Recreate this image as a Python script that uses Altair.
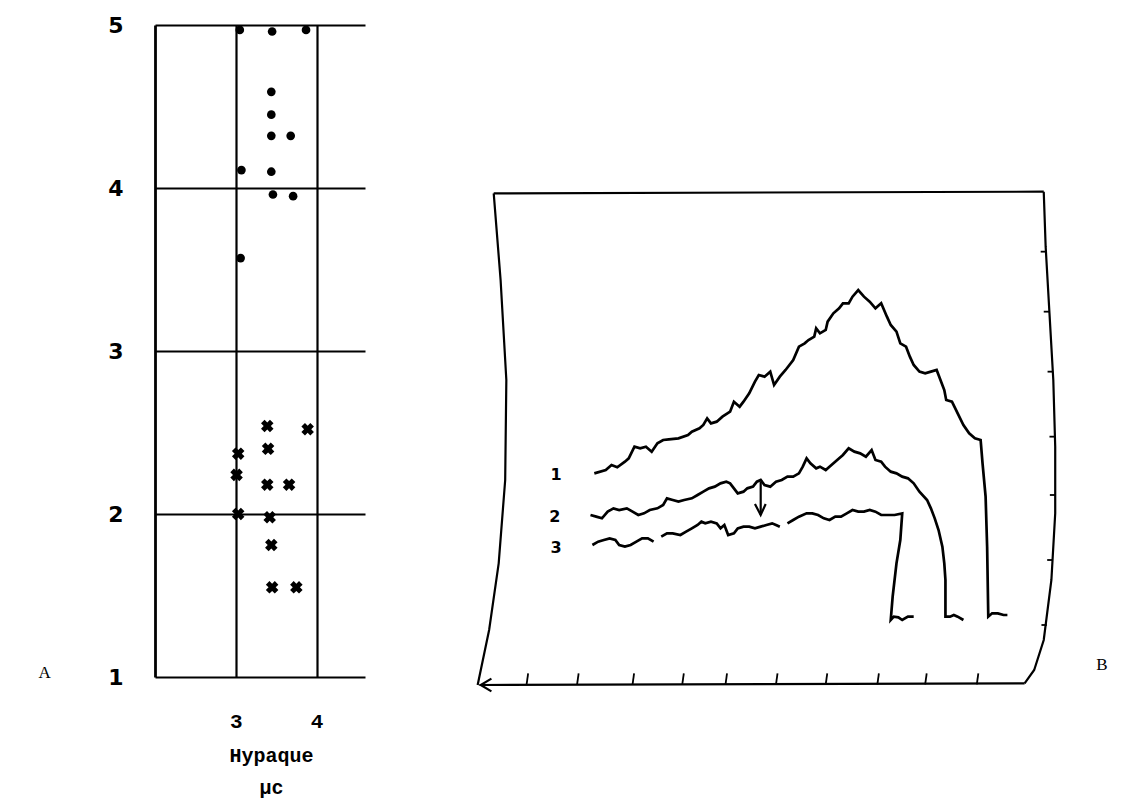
import altair as alt
import pandas as pd

# ---------------- Panel A : scatter (Hypaque uc vs value) ----------------
dot_hypaque = [3.05, 3.45, 3.87, 3.44, 3.44, 3.44, 3.68, 3.07, 3.44, 3.46, 3.71, 3.06]
dot_value = [4.97, 4.96, 4.97, 4.59, 4.45, 4.32, 4.32, 4.11, 4.10, 3.96, 3.95, 3.57]
cross_hypaque = [3.39, 3.89, 3.03, 3.40, 3.01, 3.39, 3.66, 3.03, 3.42, 3.44, 3.45, 3.75]
cross_value = [2.54, 2.52, 2.37, 2.40, 2.24, 2.18, 2.18, 2.00, 1.98, 1.81, 1.55, 1.55]
x_ticks = [3, 4]
y_ticks = [1, 2, 3, 4, 5]

# ---------------- Panel B : recorder traces (chart units) ----------------
trace1_x = [32.5, 35.5, 37.0, 38.5, 40.5, 41.5, 43.0, 44.5, 46.0, 47.5, 49.0, 50.5, 52.0, 54.5, 57.0,
            58.0, 60.0, 61.0, 62.0, 63.0, 64.5, 66.0, 68.0, 69.0, 70.5, 71.5, 73.0, 74.5, 75.5, 77.0,
            78.5, 79.5, 81.0, 82.5, 84.5, 86.0, 87.5, 88.5, 90.0, 90.5, 91.5, 93.0, 93.5, 95.0, 96.5,
            97.5, 99.0, 100.0, 101.5, 103.0, 104.5, 106.0, 107.5, 109.0, 110.0, 111.5, 112.5, 114.0,
            115.0, 116.0, 117.5, 119.0, 120.5, 122.0, 123.0, 124.0, 124.5, 126.0, 127.5, 129.0, 130.5,
            132.0, 133.5, 134.0, 134.8, 135.2, 135.5, 136.5, 138.0, 139.5, 140.5]
trace1_y = [68.0, 69.0, 70.5, 69.8, 71.5, 72.5, 76.0, 75.5, 76.0, 74.5, 77.0, 78.0, 78.2, 78.5, 79.5,
            80.5, 81.5, 82.5, 84.5, 83.0, 83.5, 85.0, 86.5, 89.5, 88.0, 89.5, 92.0, 95.5, 97.5, 97.0,
            98.5, 94.5, 97.0, 99.0, 102.0, 106.0, 107.0, 108.0, 109.0, 111.5, 110.0, 111.0, 113.5, 116.0,
            117.5, 119.0, 119.0, 121.0, 123.0, 121.0, 119.5, 117.5, 119.0, 115.0, 112.5, 110.5, 107.0,
            106.0, 103.0, 100.5, 98.5, 98.0, 98.5, 99.0, 96.0, 93.0, 90.0, 89.5, 86.0, 82.5, 80.0,
            78.5, 78.0, 71.0, 61.0, 46.0, 25.0, 26.0, 26.0, 25.5, 25.5]

trace2_x = [31.5, 33.0, 34.5, 36.0, 37.5, 39.0, 41.0, 42.5, 44.0, 45.5, 47.0, 49.0, 50.5, 51.5, 53.0,
            54.5, 56.0, 58.0, 59.5, 61.0, 62.5, 64.0, 65.5, 67.0, 68.0, 69.0, 70.0, 71.5, 72.5, 74.0,
            75.0, 76.0, 77.0, 78.5, 80.0, 81.5, 83.0, 84.5, 86.0, 87.0, 88.0, 89.0, 90.5, 91.5, 93.0,
            94.5, 96.0, 97.5, 99.0, 100.5, 102.0, 103.5, 105.0, 106.0, 107.5, 108.5, 110.0, 111.5,
            113.0, 114.5, 116.0, 117.5, 119.5, 120.5, 121.5, 122.5, 123.5, 124.0, 124.3, 124.3, 125.5,
            126.5, 127.5, 129.0]
trace2_y = [55.5, 55.0, 54.5, 56.5, 57.5, 57.0, 57.5, 56.5, 55.5, 56.0, 57.0, 57.5, 58.5, 60.5, 60.0,
            59.5, 60.0, 60.5, 61.5, 62.5, 63.5, 64.0, 65.0, 65.5, 65.0, 63.5, 62.0, 62.5, 63.5, 64.0,
            65.5, 66.0, 64.5, 64.0, 65.5, 66.0, 67.0, 67.0, 68.0, 70.0, 72.5, 71.0, 69.5, 70.0, 69.0,
            70.5, 72.0, 73.5, 75.5, 74.5, 74.0, 73.0, 75.0, 72.0, 71.5, 70.0, 68.5, 68.0,
            67.0, 66.5, 65.0, 62.5, 60.0, 57.5, 54.5, 51.0, 46.0, 41.0, 36.0, 25.0, 25.0,
            25.5, 25.0, 24.0]

trace3a_x = [32.0, 33.5, 35.0, 36.5, 38.0, 39.0, 40.5, 42.0, 43.5, 45.0, 46.5, 48.0]
trace3a_y = [46.5, 47.5, 48.0, 48.5, 48.0, 46.5, 46.0, 46.5, 47.5, 48.5, 48.5, 47.5]
trace3b_x = [50.0, 51.5, 53.0, 55.0, 56.5, 58.0, 59.5, 60.5, 61.5, 63.0, 64.5, 65.5, 66.5, 67.5, 69.0,
             70.0, 71.5, 73.0, 74.5, 76.0, 77.5, 79.0, 80.0, 81.0]
trace3b_y = [49.0, 50.0, 50.0, 49.5, 50.5, 51.5, 52.5, 53.5, 53.0, 53.5, 53.0, 51.5, 52.5, 49.5, 50.0,
             51.5, 52.0, 52.0, 51.5, 52.0, 52.5, 53.0, 52.5, 52.0]
trace3c_x = [83.0, 84.5, 86.0, 88.0, 89.5, 91.0, 92.5, 94.0, 95.5, 97.0, 98.5, 100.0, 101.5, 103.0,
             104.5, 106.0, 107.5, 109.0, 111.0, 113.0, 112.5, 111.5, 110.5, 110.0, 110.8, 112.0, 113.0,
             114.5, 116.0]
trace3c_y = [53.0, 54.0, 55.0, 56.0, 56.0, 55.5, 54.5, 54.0, 55.0, 55.0, 56.0, 57.0, 56.5, 56.5,
             57.0, 56.5, 55.5, 55.5, 55.5, 56.0, 48.0, 41.0, 31.0, 24.0, 25.0, 24.8, 24.0,
             25.0, 25.0]

arrow_x = [76.0, 76.0]
arrow_y = [65.5, 55.5]
arrowhead_x = [74.5, 76.0, 77.3]
arrowhead_y = [58.8, 55.5, 58.8]

# frame of the recording paper
frame_top_x = [6.2, 150.0]
frame_top_y = [152.0, 152.5]
frame_left_x = [6.2, 8.0, 9.5, 9.2, 7.5, 5.0, 2.0]
frame_left_y = [152.0, 126.0, 96.0, 66.0, 41.0, 21.0, 4.5]
frame_bottom_x = [2.5, 145.0]
frame_bottom_y = [4.5, 5.0]
frame_right_x = [150.0, 150.5, 151.5, 152.5, 153.0, 153.0, 152.0, 150.0, 147.5, 145.0]
frame_right_y = [152.5, 136.0, 116.0, 96.0, 76.0, 56.0, 36.0, 18.0, 9.0, 5.0]
axis_arrow_x = [5.6, 2.8, 5.6]
axis_arrow_y = [6.4, 4.5, 2.6]

bottom_tick_x = [14.8, 28.0, 42.5, 55.5, 66.8, 80.0, 93.0, 106.5, 119.0, 132.5]
right_tick_y = [134.5, 116.5, 98.5, 79.0, 61.5, 42.0, 22.5]
right_tick_x = [150.6, 151.4, 152.4, 152.9, 153.0, 152.3, 150.8]

trace_labels = ["1", "2", "3"]
trace_label_x = [22.5, 22.2, 22.5]
trace_label_y = [67.5, 55.0, 45.5]

# ---------------- build Panel A ----------------
dots = pd.DataFrame({"h": dot_hypaque, "v": dot_value})
crosses = pd.DataFrame({"h": cross_hypaque, "v": cross_value})

xA = alt.X("h:Q", scale=alt.Scale(domain=[2, 4.6], nice=False, zero=False),
           axis=alt.Axis(values=x_ticks, format="d", grid=True, gridColor="black", gridWidth=2.2,
                         gridOpacity=1, domain=False, ticks=False, labelPadding=33,
                         labelFont="Liberation Mono", labelFontSize=21, labelFontWeight="bold",
                         labelColor="black", title=["Hypaque", "μc"], titleFont="Liberation Mono",
                         titleFontSize=20, titleFontWeight="bold", titleColor="black",
                         titleLineHeight=32, titlePadding=14, titleX=116, titleAlign="center"))
yA = alt.Y("v:Q", scale=alt.Scale(domain=[1, 5], nice=False, zero=False),
           axis=alt.Axis(values=y_ticks, format="d", grid=True, gridColor="black", gridWidth=2.2,
                         gridOpacity=1, domain=True, domainColor="black", domainWidth=2.8, ticks=False,
                         labelPadding=32, labelFont="DejaVu Sans", labelFontSize=22,
                         labelFontWeight="bold", labelColor="black",
                         title="A", titleAngle=0, titleX=-117, titleY=647, titleAlign="left",
                         titleBaseline="middle", titleFont="Liberation Serif", titleFontSize=17,
                         titleFontWeight="normal", titleColor="black"))

dotsA = alt.Chart(dots).mark_circle(size=75, color="black", opacity=1).encode(x=xA, y=yA)
crossA = alt.Chart(crosses).mark_point(shape="cross", angle=45, filled=True, size=160,
                                       color="black", opacity=1).encode(
    x=alt.X("h:Q"), y=alt.Y("v:Q"))
panelA = alt.layer(dotsA, crossA).properties(width=210, height=652)

# ---------------- build Panel B ----------------
def seg(name, xs, ys):
    return pd.DataFrame({"x": xs, "y": ys, "seg": name, "i": list(range(len(xs)))})

lines_df = pd.concat([
    seg("t1", trace1_x, trace1_y),
    seg("t2", trace2_x, trace2_y),
    seg("t3a", trace3a_x, trace3a_y),
    seg("t3b", trace3b_x, trace3b_y),
    seg("t3c", trace3c_x, trace3c_y),
], ignore_index=True)

frame_df = pd.concat([
    seg("top", frame_top_x, frame_top_y),
    seg("left", frame_left_x, frame_left_y),
    seg("bottom", frame_bottom_x, frame_bottom_y),
    seg("right", frame_right_x, frame_right_y),
    seg("axarrow", axis_arrow_x, axis_arrow_y),
    seg("arrow", arrow_x, arrow_y),
    seg("arrowhead", arrowhead_x, arrowhead_y),
], ignore_index=True)

btick = pd.DataFrame({"x": bottom_tick_x, "x2": [v + 0.4 for v in bottom_tick_x],
                      "y": [4.7] * len(bottom_tick_x), "y2": [8.0] * len(bottom_tick_x)})
rtick = pd.DataFrame({"x": right_tick_x, "x2": [v - 1.4 for v in right_tick_x],
                      "y": right_tick_y, "y2": right_tick_y})
labels_df = pd.DataFrame({"x": trace_label_x, "y": trace_label_y, "t": trace_labels})
b_df = pd.DataFrame({"x": [165.2], "y": [10.5], "t": ["B"]})

xB = alt.X("x:Q", scale=alt.Scale(domain=[0, 166.8], nice=False, zero=False), axis=None)
yB = alt.Y("y:Q", scale=alt.Scale(domain=[0, 202.5], nice=False, zero=False), axis=None)

traces = alt.Chart(lines_df).mark_line(color="black", strokeWidth=2.7, strokeJoin="miter").encode(
    x=xB, y=yB, detail="seg:N", order="i:Q")
frame = alt.Chart(frame_df).mark_line(color="black", strokeWidth=2.2).encode(
    x=xB, y=yB, detail="seg:N", order="i:Q")
bt = alt.Chart(btick).mark_rule(color="black", strokeWidth=1.8).encode(
    x=xB, y=yB, x2="x2:Q", y2="y2:Q")
rt = alt.Chart(rtick).mark_rule(color="black", strokeWidth=1.8).encode(
    x=xB, y=yB, x2="x2:Q", y2="y2:Q")
tl = alt.Chart(labels_df).mark_text(font="DejaVu Sans", fontSize=16, fontWeight="bold",
                                    color="black").encode(x=xB, y=yB, text="t:N")
bl = alt.Chart(b_df).mark_text(font="Liberation Serif", fontSize=17, color="black").encode(
    x=xB, y=yB, text="t:N")

panelB = alt.layer(frame, bt, rt, traces, tl, bl).properties(width=638, height=675)

chart = alt.hconcat(panelA, panelB, spacing=105, bounds="flush").properties(
    padding={"left": 30, "top": 6, "right": 0, "bottom": 2}, background="white"
).configure_view(strokeOpacity=0, strokeWidth=0)

chart.save("out.html", embed_options={"renderer": "svg", "actions": False})
